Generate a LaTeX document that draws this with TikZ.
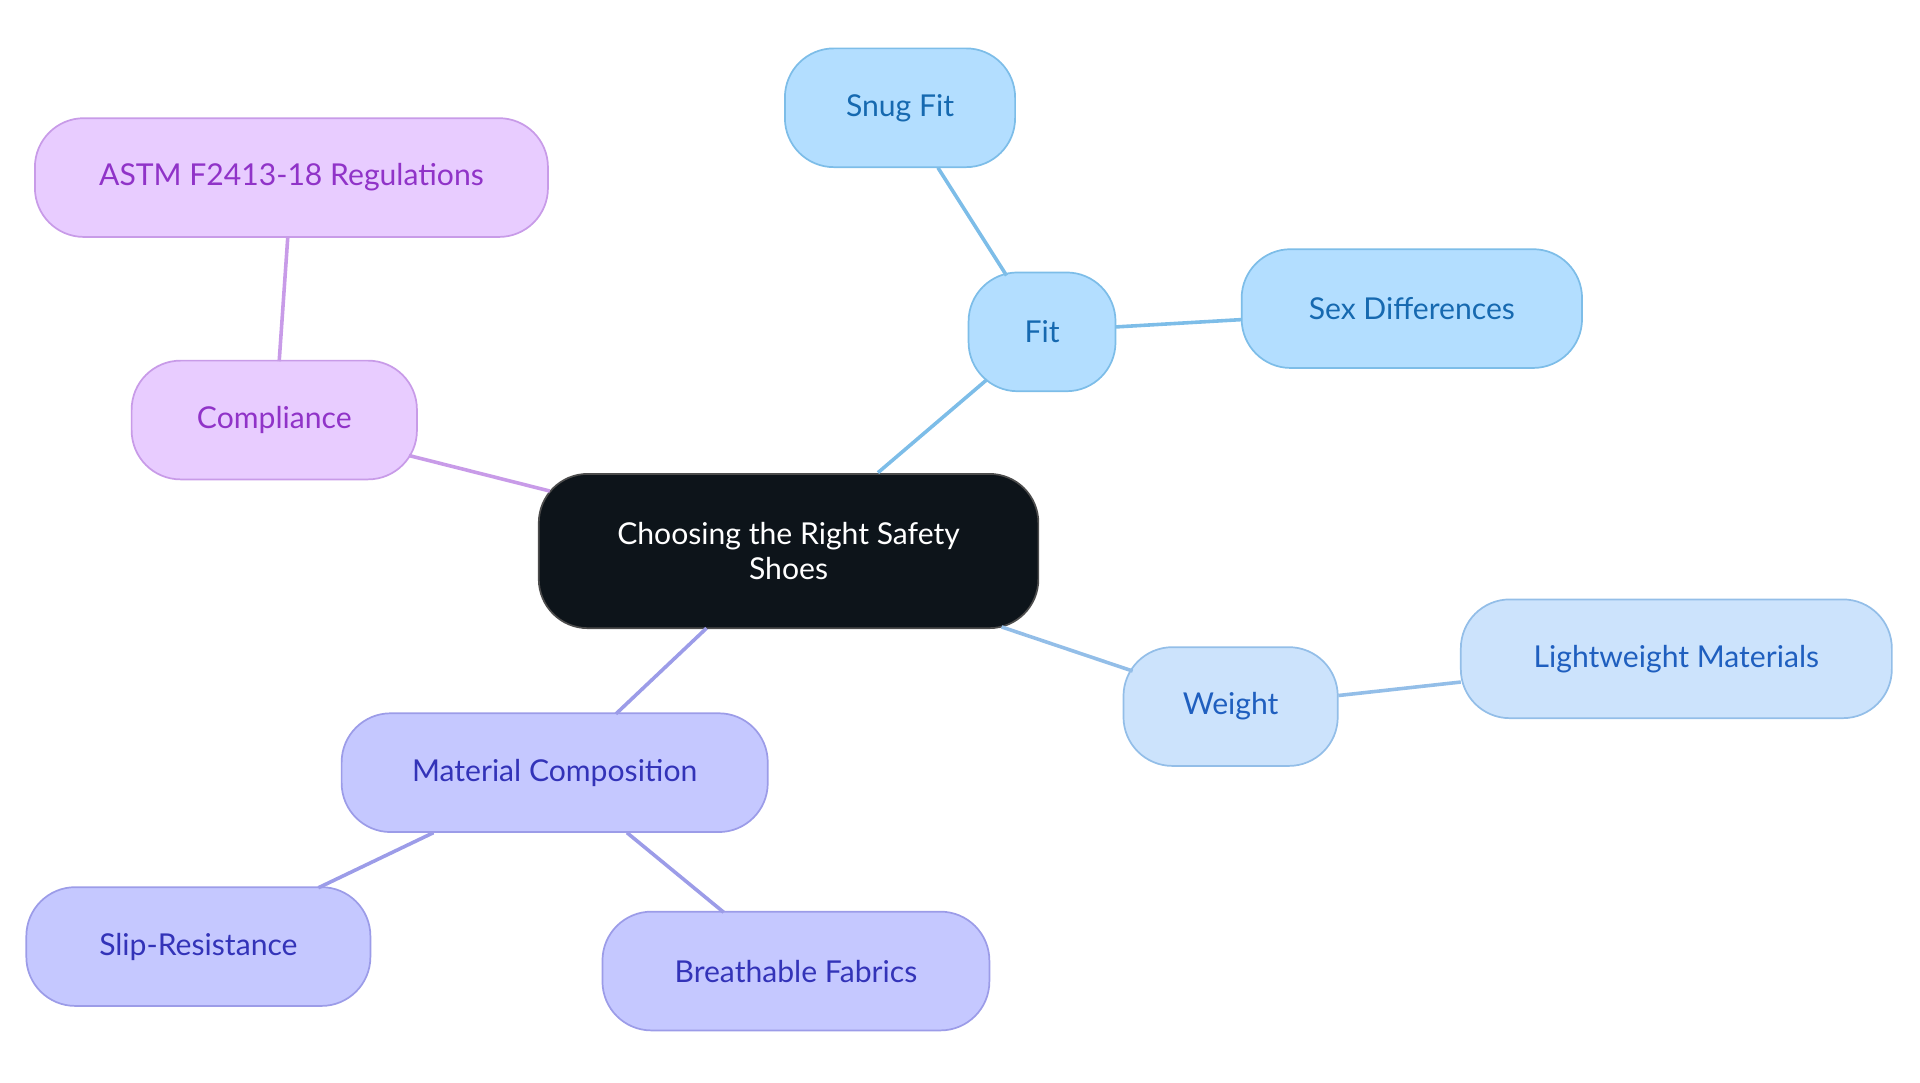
\documentclass[tikz,border=0pt]{standalone}
\usepackage{fontspec}
\setmainfont{Lato}
\definecolor{bF}{HTML}{B3DEFF}\definecolor{bD}{HTML}{7DBDE8}\definecolor{bT}{HTML}{1669B0}
\definecolor{lF}{HTML}{CCE3FC}\definecolor{lD}{HTML}{93BEE8}\definecolor{lT}{HTML}{1F5FBF}
\definecolor{pF}{HTML}{E8CCFF}\definecolor{pD}{HTML}{C89BE8}\definecolor{pT}{HTML}{9033C8}
\definecolor{vF}{HTML}{C5C8FF}\definecolor{vD}{HTML}{9C9CE8}\definecolor{vT}{HTML}{3333B8}
\definecolor{cF}{HTML}{0D141A}
\tikzset{x=0.03cm,y=-0.03cm,
 box/.style={rounded corners=40*0.03cm,draw,line width=1.2pt,minimum height=97*0.03cm,inner sep=0pt,align=center,font=\fontsize{21}{25}\selectfont},
 bb/.style={box,fill=bF,draw=bD,text=bT},
 lb/.style={box,fill=lF,draw=lD,text=lT},
 pb/.style={box,fill=pF,draw=pD,text=pT},
 vb/.style={box,fill=vF,draw=vD,text=vT},
 ln/.style={line width=2.5pt}}
\begin{document}
\begin{tikzpicture}
\useasboundingbox (0,0) rectangle (1568,884);
\node[box,fill=cF,draw=black!70,text=white,minimum width=408*0.03cm,minimum height=126*0.03cm] (c) at (644,450) {Choosing the Right Safety\\Shoes};
\node[bb,minimum width=120*0.03cm] (fit) at (851,271) {Fit};
\node[bb,minimum width=188*0.03cm] (snug) at (735,88) {Snug Fit};
\node[bb,minimum width=278*0.03cm] (sex) at (1153,252) {Sex Differences};
\node[lb,minimum width=175*0.03cm] (w) at (1005,577) {Weight};
\node[lb,minimum width=352*0.03cm] (lw) at (1369,538) {Lightweight Materials};
\node[vb,minimum width=348*0.03cm] (m) at (453,631) {Material Composition};
\node[vb,minimum width=281*0.03cm] (slip) at (162,773) {Slip-Resistance};
\node[vb,minimum width=316*0.03cm] (br) at (650,793) {Breathable Fabrics};
\node[pb,minimum width=233*0.03cm] (comp) at (224,343) {Compliance};
\node[pb,minimum width=419*0.03cm] (astm) at (238,145) {ASTM F2413-18 Regulations};
\begin{scope}[on background layer/.style={}]
\end{scope}
\begin{pgfonlayer}{main}\end{pgfonlayer}
\draw[ln,draw=bD] (717,386) -- (806,310);
\draw[ln,draw=bD] (822,225) -- (766,137);
\draw[ln,draw=bD] (911,267) -- (1014,261);
\draw[ln,draw=lD] (818,512) -- (925,548);
\draw[ln,draw=lD] (1093,568) -- (1193,557);
\draw[ln,draw=vD] (577,513) -- (503,583);
\draw[ln,draw=vD] (354,680) -- (260,725);
\draw[ln,draw=vD] (512,680) -- (591,745);
\draw[ln,draw=pD] (449,401) -- (334,372);
\draw[ln,draw=pD] (228,295) -- (235,194);
\end{tikzpicture}
\end{document}
